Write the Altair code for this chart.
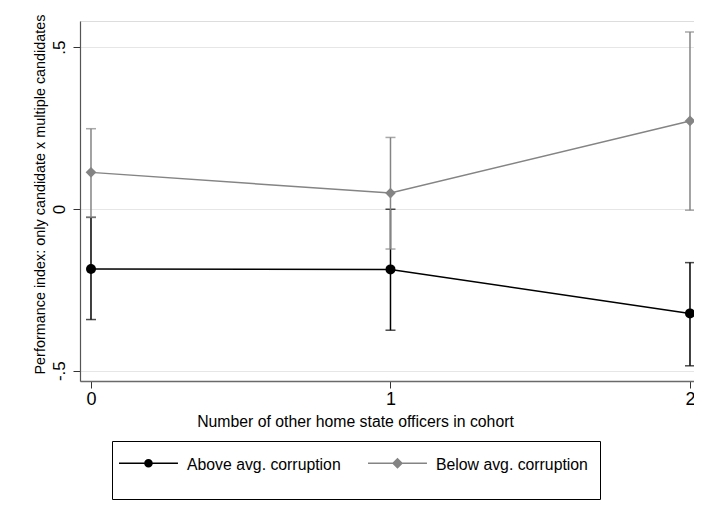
import altair as alt
import pandas as pd

# ---- data ----
x_vals = [0, 1, 2]
above_est = [-0.186, -0.187, -0.323]
above_lo = [-0.342, -0.375, -0.485]
above_hi = [-0.026, -0.001, -0.166]
below_est = [0.113, 0.049, 0.272]
below_lo = [-0.026, -0.124, -0.004]
below_hi = [0.248, 0.221, 0.547]

series_names = ["Above avg. corruption", "Below avg. corruption"]
series_colors = ["#000000", "#848484"]
series_shapes = ["circle", "diamond"]
series_sizes = [100, 114]

x_ticks = [0.0, 1.0, 2.0]
x_tick_labels = ["0", "1", "2"]
y_ticks = [-0.5, 0.0, 0.5]
y_tick_labels = ["-.5", "0", ".5"]
x_title = "Number of other home state officers in cohort"
y_title = "Performance index: only candidate x multiple candidates"

FONT = "Liberation Sans"

# legend symbols: line with marker (custom paths, unit = sqrt(symbolSize)/2);
# the leading/trailing move-to points only widen the legend box like Stata's
legend_paths = [
    "M0,0.98 M-1,-0.352H1.68V-0.284H-1Z M0.145,-0.318A0.195,0.195 0 1,1 0.535,-0.318A0.195,0.195 0 1,1 0.145,-0.318Z",
    "M0,0.98 M9.2,0 M-1,-0.352H1.68V-0.284H-1Z M0.34,-0.568L0.59,-0.318L0.34,-0.068L0.09,-0.318Z",
]

frames = []
for name, est, lo, hi in [
    (series_names[0], above_est, above_lo, above_hi),
    (series_names[1], below_est, below_lo, below_hi),
]:
    frames.append(pd.DataFrame({"x": x_vals, "est": est, "lo": lo, "hi": hi, "series": name}))
all_df = pd.concat(frames, ignore_index=True)

x_scale = alt.Scale(domain=[-0.0367, 2.0134], nice=False, zero=False)
y_scale = alt.Scale(domain=[-0.532, 0.581], nice=False, zero=False)


def make_expr(values, labels):
    expr = "'" + labels[-1] + "'"
    for v, lab in zip(values[:-1][::-1], labels[:-1][::-1]):
        expr = f"abs(datum.value - ({v})) < 1e-6 ? '{lab}' : ({expr})"
    return expr


x_axis = alt.Axis(
    values=x_ticks, labelExpr=make_expr(x_ticks, x_tick_labels), grid=False,
    domainColor="#6a6a6a", domainWidth=1.5,
    tickColor="#333333", tickSize=7, tickWidth=1,
    labelFont=FONT, labelFontSize=18, labelColor="#000000", labelPadding=2,
    labelFlush=False, labelOverlap=False, labelBound=False,
    title=x_title, titleFont=FONT, titleFontSize=15.8, titleFontWeight="normal",
    titleColor="#000000", titleX=275, titleY=45, titleAlign="center",
    titleBaseline="alphabetic",
)
y_axis = alt.Axis(
    values=y_ticks, labelExpr=make_expr(y_ticks, y_tick_labels), grid=True,
    gridColor="#e6e6e6", gridWidth=1,
    domainColor="#555555", domainWidth=1.2,
    tickColor="#333333", tickSize=7, tickWidth=1,
    labelFont=FONT, labelFontSize=17, labelColor="#000000",
    labelAngle=270, labelAlign="center", labelBaseline="alphabetic", labelPadding=9,
    labelFlush=False, labelOverlap=False, labelBound=False,
    title=y_title, titleFont=FONT, titleFontSize=14.4, titleFontWeight="normal",
    titleColor="#000000", titleAngle=270, titleX=-36, titleY=173,
    titleAlign="center", titleBaseline="alphabetic",
)

X = alt.X("x:Q", scale=x_scale, axis=x_axis)

legend = alt.Legend(
    orient="none", legendX=32, legendY=420, direction="horizontal", columns=2,
    title=None, strokeColor="#000000", fillColor="#ffffff", padding=7,
    cornerRadius=0, symbolSize=1936, symbolStrokeWidth=0, symbolOpacity=1,
    labelFont=FONT, labelFontSize=15.8, labelColor="#000000", labelOffset=24,
    columnPadding=27, labelBaseline="alphabetic", labelLimit=400,
)

base = alt.Chart(all_df)
layers = [
    base.mark_point(filled=True, opacity=0, size=10).encode(
        x=X,
        y=alt.Y("est:Q", scale=y_scale, axis=y_axis),
        color=alt.Color("series:N", scale=alt.Scale(domain=series_names, range=series_colors), legend=legend),
        shape=alt.Shape("series:N", scale=alt.Scale(domain=series_names, range=legend_paths), legend=legend),
    )
]

for name, col, shp, sz in zip(series_names, series_colors, series_shapes, series_sizes):
    sb = base.transform_filter(alt.datum.series == name)
    layers.append(sb.mark_rule(color=col, strokeWidth=1.5).encode(
        x=X, y=alt.Y("lo:Q", scale=y_scale, axis=y_axis), y2="hi:Q"))
    layers.append(sb.mark_tick(color=col, orient="horizontal", size=10, thickness=1.5).encode(
        x=X, y=alt.Y("lo:Q", scale=y_scale, axis=y_axis)))
    layers.append(sb.mark_tick(color=col, orient="horizontal", size=10, thickness=1.5).encode(
        x=X, y=alt.Y("hi:Q", scale=y_scale, axis=y_axis)))
    layers.append(sb.mark_line(color=col, strokeWidth=1.5).encode(
        x=X, y=alt.Y("est:Q", scale=y_scale, axis=y_axis)))
    layers.append(sb.mark_point(color=col, fill=col, filled=True, shape=shp, size=sz, opacity=1).encode(
        x=X, y=alt.Y("est:Q", scale=y_scale, axis=y_axis)))

chart = alt.layer(*layers).properties(
    width=614, height=360,
    padding={"left": 72, "top": 13, "right": 0, "bottom": 130},
    autosize=alt.AutoSizeParams(type="none"),
    background="#ffffff",
).configure_view(strokeWidth=0).configure(font=FONT)

chart.save("out.html", embed_options={"renderer": "svg", "actions": False})
